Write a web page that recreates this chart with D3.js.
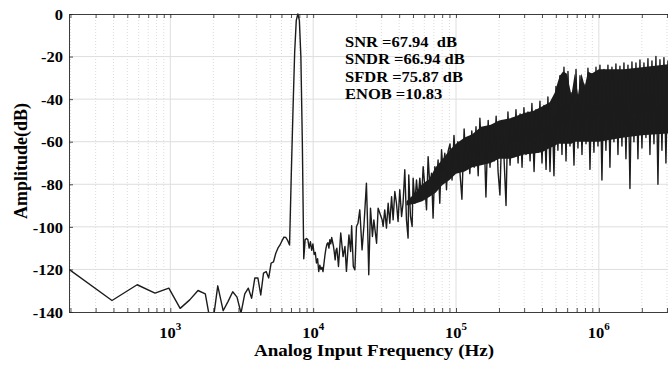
<!DOCTYPE html>
<html>
<head>
<meta charset="utf-8">
<script src="https://cdn.jsdelivr.net/npm/d3@7"></script>
<style>
  body { margin: 0; background: #fff; }
  text { font-family: "Liberation Serif", "Times New Roman", serif; font-weight: bold; fill: #000; }
</style>
</head>
<body>
<div id="chart"></div>
<script>
// FFT spectrum, fs = 6.4 MHz, N = 32768
const binHz = 6.4e6 / 32768;

// first bins, one value per bin
const lowBins = [1,2,3,4,5,6,7,8,9,10,11,12,13,14,15,16,17,18,19,20,
  21,22,23,24,25,26,27,28,29,30,31,32,33,34,35,36,37,38,39,40,
  41,42,43,44,45,46,47,48,49,50,51,52,53,54,55,56,57,58,59,60,
  61,62,63,64,65,66,67,68,69,70,71,72,73,74,75,76,77];
const lowDb = [-120,-134.6,-127.2,-131.1,-128.8,-138.3,-134.3,-129.9,-131.5,-148.5,
  -127.7,-139.4,-135,-130.5,-133,-140.5,-131.5,-128.8,-133.5,-124,
  -124,-132,-121.7,-121,-124,-117,-116.5,-112.5,-110,-108.5,
  -106.5,-104.8,-105,-106.5,-108.5,-75,-45,-18,-3,0,
  -3,-20,-60,-115,-106,-105.5,-106,-110,-107,-111,
  -108,-113,-112,-117,-115,-121,-118,-120,-119,-121,
  -117,-113,-110,-108,-107.5,-110,-106,-108,-105,-107,
  -109,-112,-115.5,-111,-110,-114,-118.6];

// higher band (kHz, dB)
const noiseKHz = [15.6,16.2,16.7,17.1,17.8,18.3,18.6,19.1,19.6,20.1,
  20.6,21.2,22.0,22.7,23.6,24.0,24.5,25.2,26.0,26.6,
  27.8,28.5,29.3,30.4,30.9,31.7,32.6,33.5,34.4,35.4,
  36.3,37.3,38.3,39.3,40.4,41.6,42.6,43.8,45.0,46.2,
  46.7,48.0,49.3,50.1,51.5,52.9,54.3,55.8,57.4,58.9,
  60.5,62.2,63.8,65.6,67.4,69.1,71.1,73.0,74.9,77.0,
  79.2,81.2,83.5,85.8,88.0,
  90.8,93.8,96.8,100,103,107,110,114,118,121,
  125,129,134,138,143,147,152,157,162,168,
  173,179,185,191,197,203,210,217,224,231,
  239,247,255,263,272,281,290,299,309,319,
  330,340,352,363,375,387,400,413,427,440,
  455,470,485,501,517,534,552,570,589,608,
  628,648,670,692,714,738,762,787,813,839,
  867,895,924,955,986,1018,1051,1086,1121,1158,
  1196,1235,1276,1317,1361,1405,1451,1499,1548,1599,
  1651,1705,1761,1819,1878,1940,2003,2069,2137,2207,
  2279,2354,2431,2510,2593,2678,2765,2856,2949,3046,3146];
const noiseDb = [-102.9,-114,-109.2,-120.9,-103.8,-111.6,-99.5,-118.6,-120.2,-99.8,
  -98.3,-92,-110.8,-99,-79.5,-96.7,-122.5,-91.2,-104.5,-96.7,
  -107.7,-91.2,-93.6,-96.7,-99.8,-92,-100.6,-88.9,-98.3,-85.8,
  -96.7,-83.4,-88.9,-97.5,-82.6,-95.1,-88.9,-73.2,-96.7,-105.3,
  -75.6,-95.1,-99.8,-77.1,-88.9,-78,-87.3,-77.1,-87.3,-71.7,
  -81,-92,-67,-81,-74.8,-95.9,-71.7,-81,-68.6,-88.9,
  -63.8,-73.2,-65.4,-82.6,-64.6,
  -61,-78,-57,-74,-60,-76,-87,-54,-73,-58,
  -75,-55,-72,-53,-76,-49,-70,-54,-86,-50,
  -72,-53,-69,-48,-74,-85,-50,-68,-90,-46,
  -71,-49,-67,-45,-70,-47,-72,-44,-66,-46,
  -69,-42,-74,-45,-65,-41,-70,-43,-73,-39,
  -74,-41,-76,-34,-64,-29,-66,-25,-69,-27,
  -62,-37,-71,-26,-63,-29,-66,-33,-61,-25.5,
  -73,-28,-65,-25,-62,-24,-78,-26,-64,-24,
  -72,-25,-60,-23.5,-66,-24.5,-62,-23,-68,-24,
  -82,-22.5,-60,-23,-68,-21.6,-63,-23,-58,-21,
  -66,-22,-61,-20,-80,-21.5,-64,-20.5,-70,-22,-60];

// solid dark core of the noise band (kHz, top dB, bottom dB)
const coreKHz = [45,52,58,65,72,80,90,100,115,130,150,175,200,240,300,350,400,453,491,516,533,562,596,643,678,715,755,797,840,892,1000,1500,2000,3200];
const coreTop = [-88,-84,-80,-77.5,-72,-68.5,-64,-61,-58,-56.5,-53,-52,-50,-49,-46.5,-45.5,-43.5,-41.5,-37,-32,-29,-27,-28,-38,-28,-38,-28,-34,-27,-28,-26,-26,-25,-23.5];
const coreBottom = [-90,-89,-88,-86,-84,-80.5,-78,-75,-74,-72,-71,-70,-68,-68,-66,-65.5,-65,-63,-62,-61,-61,-61,-61,-61,-60,-60,-60,-60,-60,-60,-60,-58,-57,-56];

const yTicks = [0,-20,-40,-60,-80,-100,-120,-140];
const xTicks = [1e3,1e4,1e5,1e6];
const xTickExp = ["3","4","5","6"];
const minorMant = [2,3,4,5,6,7,8,9];
const notes = ["SNR =67.94  dB","SNDR =66.94 dB","SFDR =75.87 dB","ENOB =10.83"];

const W = 668, H = 366;
const L = 69, R = 671, T = 14, B = 312;

const svg = d3.select("#chart").append("svg")
  .attr("width", W).attr("height", H);

const x = d3.scaleLog().domain([binHz, 3.2e6]).range([L, R]);
const y = d3.scaleLinear().domain([-140, 0]).range([B, T]);

const minorTicks = [];
[100,1e3,1e4,1e5,1e6].forEach(d => minorMant.forEach(m => {
  const v = d * m;
  if (v > binHz && v < 3.2e6) minorTicks.push(v);
}));

// grid
const grid = svg.append("g");
grid.selectAll(".minor").data(minorTicks).enter().append("line")
  .attr("x1", d => x(d)).attr("x2", d => x(d))
  .attr("y1", T).attr("y2", B)
  .attr("stroke", "#c4c4c4").attr("stroke-width", 0.6)
  .attr("stroke-dasharray", "1,2");
grid.selectAll(".majx").data(xTicks).enter().append("line")
  .attr("x1", d => x(d)).attr("x2", d => x(d))
  .attr("y1", T).attr("y2", B)
  .attr("stroke", "#dedede").attr("stroke-width", 1);
grid.selectAll(".majy").data(yTicks.slice(1, -1)).enter().append("line")
  .attr("x1", L).attr("x2", R)
  .attr("y1", d => y(d)).attr("y2", d => y(d))
  .attr("stroke", "#dedede").attr("stroke-width", 1);

// data
const lowPts = lowBins.map((k, i) => [k * binHz, lowDb[i]]);
const noisePts = noiseKHz.map((f, i) => [f * 1000, noiseDb[i]]);
const pts = lowPts.concat(noisePts);
const corePts = coreKHz.map((f, i) => [f * 1000, coreTop[i], coreBottom[i]]);

svg.append("clipPath").attr("id", "clip")
  .append("rect").attr("x", L).attr("y", T - 1).attr("width", R - L).attr("height", B - T + 1);

const plot = svg.append("g").attr("clip-path", "url(#clip)");

plot.append("path")
  .datum(corePts)
  .attr("fill", "#1c1c1c")
  .attr("d", d3.area()
    .x(d => x(d[0]))
    .y0(d => y(d[2]))
    .y1(d => y(d[1])));

plot.append("path")
  .datum(pts)
  .attr("fill", "none")
  .attr("stroke", "#1c1c1c")
  .attr("stroke-width", 1.4)
  .attr("stroke-linejoin", "round")
  .attr("d", d3.line().x(d => x(d[0])).y(d => y(d[1])));

// axes
const axisColor = "#262626";
const allX = xTicks.concat(minorTicks);

const gB = svg.append("g").attr("transform", `translate(0,${B})`)
  .call(d3.axisBottom(x).tickValues(allX).tickSize(-4).tickSizeOuter(0).tickFormat(""));
const gT = svg.append("g").attr("transform", `translate(0,${T})`)
  .call(d3.axisTop(x).tickValues(allX).tickSize(-4).tickSizeOuter(0).tickFormat(""));
const gL = svg.append("g").attr("transform", `translate(${L},0)`)
  .call(d3.axisLeft(y).tickValues(yTicks).tickSize(-4).tickSizeOuter(0).tickPadding(6).tickFormat(d => String(d)));

[gB, gT, gL].forEach(g => {
  g.selectAll("path").attr("stroke", axisColor).attr("stroke-width", 0.9);
  g.selectAll("line").attr("stroke", axisColor).attr("stroke-width", 0.8);
});

gL.selectAll("text")
  .attr("x", 0).attr("dy", "0.35em")
  .attr("transform", "translate(-6,0) scale(1.1,1)")
  .style("font-size", "15px")
  .style("font-family", "'Liberation Serif', serif")
  .style("font-weight", "bold")
  .attr("fill", "#000");

// x tick labels with exponents
const xl = svg.append("g").selectAll("text").data(xTicks).enter().append("text")
  .attr("transform", d => `translate(${x(d)},338) scale(1.1,1)`)
  .attr("text-anchor", "middle")
  .style("font-size", "15px");
xl.append("tspan").text("10");
xl.append("tspan").attr("dy", -8).style("font-size", "10px").text((d, i) => xTickExp[i]);

// axis titles
svg.append("text")
  .attr("transform", "translate(374,356) scale(1.12,1)")
  .attr("text-anchor", "middle")
  .style("font-size", "17px")
  .text("Analog Input Frequency (Hz)");

svg.append("text")
  .attr("transform", "translate(26.5,161) rotate(-90)")
  .attr("text-anchor", "middle")
  .style("font-size", "18px")
  .text("Amplitude(dB)");

// metrics box
svg.append("g").selectAll("text").data(notes).enter().append("text")
  .attr("transform", (d, i) => `translate(345,${46.5 + i * 17.5}) scale(1.1,1)`)
  .attr("xml:space", "preserve")
  .style("white-space", "pre")
  .style("font-size", "15px")
  .text(d => d);
</script>
</body>
</html>
